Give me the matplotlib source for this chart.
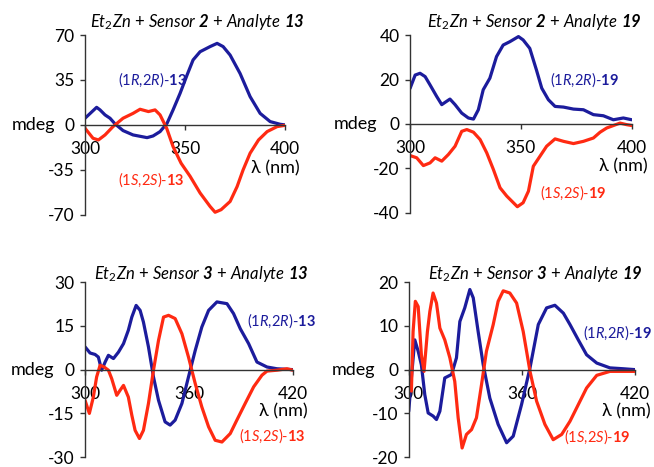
import matplotlib
matplotlib.use("Agg")
import matplotlib.pyplot as plt

plt.rcParams['font.family'] = ['Lato', 'DejaVu Sans']
plt.rcParams['mathtext.fontset'] = 'custom'
plt.rcParams['mathtext.rm'] = 'Lato'
plt.rcParams['mathtext.it'] = 'Lato:italic'
plt.rcParams['mathtext.bf'] = 'Lato:bold'
plt.rcParams['mathtext.bfit'] = 'Lato:italic:bold'

BLUE = '#1c1c9c'
RED = '#ff2a12'

# ---- panel 1: sensor 2 + analyte 13 ----
x1_b = [300, 305.8, 307.5, 310, 312.5, 315, 319, 324, 331, 334, 337.5, 341, 344, 347.5, 351,
        354, 357.5, 362.5, 366, 369, 372.5, 377.5, 382.5, 387.5, 392.5, 397.5, 400]
y1_b = [5.2, 13.7, 11.7, 7.8, 5.2, 0.8, -4.4, -7.8, -9.9, -8.6, -5.2, 1.3, 11.7, 24.6, 38.9,
        50.6, 57, 61, 63.5, 61, 54.4, 40, 22, 9, 2.6, 0.5, 0]
x1_r = [300, 304, 306.7, 310, 314, 319, 324, 327.5, 331.7, 335, 337.5, 340.8, 344, 348, 352.5,
        357.5, 362.5, 365, 368, 372.5, 376, 379, 382.5, 386.7, 391, 396, 400]
y1_r = [-2.6, -10.4, -11.7, -7.8, -1.3, 5.2, 9, 12.2, 10.4, 11.7, 7.8, -2.6, -16.9, -29.8, -40,
        -53, -63.5, -68, -66, -59.6, -48, -35, -22, -11.7, -5.2, -1.3, -0.3]

# ---- panel 2: sensor 2 + analyte 19 ----
x2_b = [300, 302.3, 304.5, 306.8, 309, 312, 314.3, 316.5, 318, 320.3, 323.3, 326.3, 328.6, 330.8,
        333, 336, 339, 342, 345, 348.9, 351, 354, 357, 359.4, 362.4, 365.4, 369.2, 373.7, 378.2,
        382.7, 387.2, 391.7, 396.2, 400]
y2_b = [16, 22, 22.8, 21.3, 17.6, 12.4, 8.7, 10.2, 11.2, 8.7, 4.9, 2.7, 2.2, 6.4,
        15.4, 20.6, 30.3, 35.5, 37, 39.3, 37.8, 34, 24.3, 16.1, 10.9, 7.9, 7.6, 6.7, 6.4,
        4.2, 3.7, 1.9, 2.7, 1.9]
x2_r = [300, 303, 306, 309, 311.3, 314.3, 317.3, 320.3, 323.3, 325.6, 328.6, 331.6, 334.6, 337.6,
        340.6, 343.6, 346.6, 348.4, 351, 353.4, 355.6, 358.6, 361.6, 365.4, 369.2, 373.7, 378.2,
        382.7, 385.7, 388.7, 391.7, 394.7, 397.7, 400]
y2_r = [-14.2, -15.2, -18.7, -17.5, -15.2, -16.7, -13.7, -10, -3.3, -2.5, -3.7, -7, -13, -20.5,
        -28.7, -32.4, -35.4, -37.2, -35.4, -30.2, -19, -14.5, -10, -6.7, -7.8, -8.8, -7.8,
        -6.3, -3.7, -1.8, -0.7, 0.4, -0.3, -0.7]

# ---- panel 3: sensor 3 + analyte 13 ----
x3_b = [300, 302.9, 305.8, 307.7, 309.6, 311.6, 313.5, 316.4, 319.3, 322.2, 325, 327, 329.5, 331.8,
        333.7, 336.6, 339.5, 342.4, 346.2, 349.1, 352, 355.9, 359.7, 363.6, 367.4, 371.3, 376.1,
        381.9, 385.7, 389.6, 394.4, 399.2, 405, 410.7, 420]
y3_b = [7.8, 5.7, 5.2, 4.3, -0.2, 2.6, 4.9, 3.8, 6, 8.9, 13.5, 18, 22, 20.3,
        16.3, 7.8, -2.5, -10.5, -17.9, -19, -17.3, -11.6, -2.5, 6.6, 14.6, 20.3, 23.2,
        22.6, 19.2, 14, 8.9, 2.6, 0.9, 0.3, 0]
x3_r = [300, 302.5, 304.8, 306.7, 308.7, 311, 313.5, 315.4, 318.3, 320.2, 322.2, 325, 327, 328.9,
        331.4, 333.7, 336.6, 339.5, 342.4, 345.3, 348.2, 352, 355.9, 359.7, 363.6, 367.4, 371.3,
        375.1, 379, 383.8, 387.6, 392.4, 397.3, 402.1, 405, 410.7, 416.5, 420]
y3_r = [-10.5, -15, -9.4, -2.5, 1.5, 0.9, -0.2, -3.1, -8.8, -7.1, -5.4, -9.4, -15.6, -20.8,
        -23.6, -20.8, -11.6, -0.2, 10, 18, 18.6, 17.5, 12.3, 4.3, -4.8, -12.8, -19.6,
        -24.2, -24.8, -21.9, -17.3, -11.6, -5.9, -1.9, -0.5, -0.2, 0.3, -0.2]

# ---- panel 4: sensor 3 + analyte 19 ----
x4_b = [300, 301.4, 303.2, 305, 306.7, 308.5, 310.3, 312.9, 314.7, 316.5, 319.1, 322.7, 325.3,
        327.1, 329.7, 332.4, 334.2, 336.8, 339.5, 343, 347.4, 351.9, 355.4, 359.8, 364.3, 368.7,
        373.1, 377.5, 382, 385.5, 389.9, 394.3, 399.7, 406.7, 413.8, 420]
y4_b = [-9.5, -1.9, 6.8, 4.2, 1.1, -5.7, -9.9, -10.6, -11.4, -9.5, -1.9, -1.1, 2.7,
        11, 14.1, 18.3, 16.4, 8.7, 1.1, -6.5, -12.5, -16.7, -15.2, -8, 0.4, 10.3,
        14.1, 14.7, 12.9, 10.3, 6.8, 3.4, 1.5, 0.4, 0.2, 0]
x4_r = [300, 301.4, 302.3, 303.5, 305, 306.7, 308.1, 309.9, 311.2, 312.9, 314.7, 316.5, 319.1,
        321.8, 324.4, 326.2, 328.3, 330.6, 333.3, 335.9, 338.6, 341.2, 344.8, 347.4, 350.1, 353.6,
        357.2, 360.7, 364.3, 367.8, 372.2, 376.6, 381.1, 385.5, 389.9, 394.3, 399.7, 406.7,
        413.8, 420]
y4_r = [-4.2, -4.9, 8.7, 15.6, 14.4, 3.4, -0.4, 8.7, 13.3, 17.5, 15.2, 9.5, 6.8,
        2.7, -2.7, -11, -17.9, -14.8, -13.7, -11, -3.4, 4.2, 10.3, 15.6, 18, 17.5,
        15.2, 8.7, -0.4, -7.2, -12.5, -16, -14.8, -11.8, -8, -4.2, -1.3, -0.4,
        -0.4, -0.4]

panels = [
    dict(rect=[0.130, 0.540, 0.306, 0.385], xlim=(300, 400), xticks=[300, 350, 400],
         ylim=70, ystep=35, sensor='2', analyte='13', xb=x1_b, yb=y1_b, xr=x1_r, yr=y1_r,
         lab_b=(0.165, 0.75), lab_r=(0.165, 0.195), ty=1.075),
    dict(rect=[0.627, 0.544, 0.339, 0.381], xlim=(300, 400), xticks=[300, 350, 400],
         ylim=40, ystep=20, sensor='2', analyte='19', xb=x2_b, yb=y2_b, xr=x2_r, yr=y2_r,
         lab_b=(0.63, 0.75), lab_r=(0.585, 0.115), ty=1.075),
    dict(rect=[0.130, 0.021, 0.318, 0.375], xlim=(300, 420), xticks=[300, 360, 420],
         ylim=30, ystep=15, sensor='3', analyte='13', xb=x3_b, yb=y3_b, xr=x3_r, yr=y3_r,
         lab_b=(0.78, 0.78), lab_r=(0.74, 0.12), ty=1.045),
    dict(rect=[0.625, 0.021, 0.346, 0.375], xlim=(300, 420), xticks=[300, 360, 420],
         ylim=20, ystep=10, sensor='3', analyte='19', xb=x4_b, yb=y4_b, xr=x4_r, yr=y4_r,
         lab_b=(0.77, 0.71), lab_r=(0.685, 0.115), ty=1.045),
]

fig = plt.figure(figsize=(6.54, 4.67), dpi=100)

for p in panels:
    ax = fig.add_axes(p['rect'])
    ax.plot(p['xb'], p['yb'], color=BLUE, lw=2.3, solid_joinstyle='round', solid_capstyle='round')
    ax.plot(p['xr'], p['yr'], color=RED, lw=2.3, solid_joinstyle='round', solid_capstyle='round')
    ax.set_xlim(*p['xlim'])
    lim = p['ylim']
    yt = [-lim, -p['ystep'], 0, p['ystep'], lim]
    ax.set_ylim(-lim, lim)
    ax.set_yticks(yt)
    ax.set_yticklabels([f"{v:g}" for v in yt])
    ax.set_xticks(p['xticks'])
    ax.spines['top'].set_visible(False)
    ax.spines['right'].set_visible(False)
    ax.spines['bottom'].set_position(('data', 0))
    for s in ['left', 'bottom']:
        ax.spines[s].set_color('#333333')
        ax.spines[s].set_linewidth(1.0)
    ax.tick_params(axis='both', labelsize=12.5, colors='#333333', labelcolor='black',
                   length=3.5, width=1.0, direction='out')
    ax.tick_params(axis='x', pad=8)
    ax.tick_params(axis='y', pad=4)
    ax.set_facecolor('none')

    # y label "mdeg" left of the 0 tick label
    ax.text(-0.15, 0.5, 'mdeg', transform=ax.transAxes, ha='right', va='center', fontsize=13)
    # x label
    ax.text(1.07, 0.26, 'λ (nm)', transform=ax.transAxes, ha='right', va='center', fontsize=13)

    # title
    title = (r"$\mathit{Et_2Zn}$ + $\mathit{Sensor}$ $\mathbfit{" + p['sensor'] +
             r"}$ + $\mathit{Analyte}$ $\mathbfit{" + p['analyte'] + "}$")
    ax.text(0.56, p['ty'], title, transform=ax.transAxes, ha='center', va='center', fontsize=12)

    # series labels
    a = p['analyte']
    ax.text(*p['lab_b'], r"(1$\mathit{R}$,2$\mathit{R}$)-$\mathbf{" + a + "}$",
            transform=ax.transAxes, ha='left', va='center', fontsize=10.5, color=BLUE)
    ax.text(*p['lab_r'], r"(1$\mathit{S}$,2$\mathit{S}$)-$\mathbf{" + a + "}$",
            transform=ax.transAxes, ha='left', va='center', fontsize=10.5, color=RED)

fig.savefig('out.png', dpi=100)
